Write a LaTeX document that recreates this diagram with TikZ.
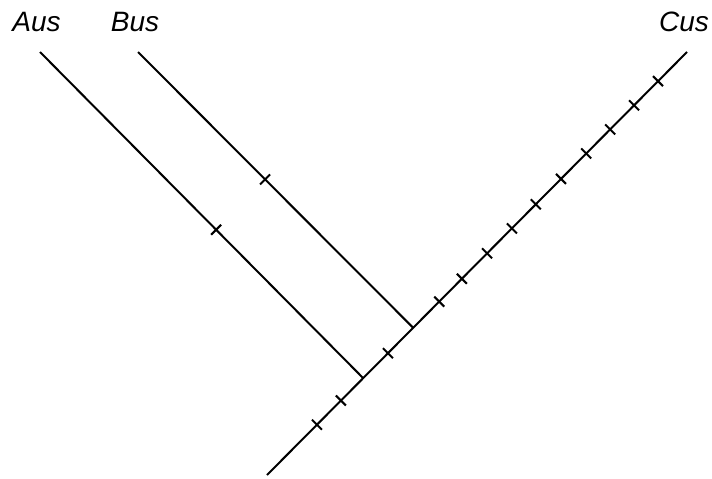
\documentclass[tikz,border=0pt]{standalone}
\usepackage{fontspec}
\setmainfont{Liberation Sans}
\usepackage{tikz}
\usetikzlibrary{calc}

\begin{document}
\begin{tikzpicture}[
  x=0.75pt,y=-0.75pt,
  branch/.style={line width=1.5pt},
  tick/.style={line width=1.5pt},
  taxon/.style={font=\fontsize{21}{25}\selectfont\itshape,anchor=base,inner sep=0pt}
]
\useasboundingbox (0,0) rectangle (712,478);
\coordinate (root) at (267,475);
\coordinate (tipC) at (687,52);
\coordinate (joinA) at ($(root)!0.229!(tipC)$);
\coordinate (joinB) at ($(root)!0.348!(tipC)$);
\coordinate (tipA) at (40,52);
\coordinate (tipB) at (138,52);
\node[taxon] (labA) at (36.5,32) {Aus};
\node[taxon] (labB) at (135,32) {Bus};
\node[taxon] (labC) at (684,32) {Cus};
\draw[branch] (root) -- (tipC);
\draw[branch] (tipA) -- (joinA);
\draw[branch] (tipB) -- (joinB);
\foreach \t in {0.119,0.176,0.288,0.410,0.464,0.524,0.583,0.640,0.700,0.760,0.817,0.874,0.931}
  \draw[tick] ($(root)!\t!(tipC)$) ++(-5,-5) -- ++(10,10);
\draw[tick] ($(tipA)!0.545!(joinA)$) ++(-5,5) -- ++(10,-10);
\draw[tick] ($(tipB)!0.462!(joinB)$) ++(-5,5) -- ++(10,-10);
\end{tikzpicture}
\end{document}
